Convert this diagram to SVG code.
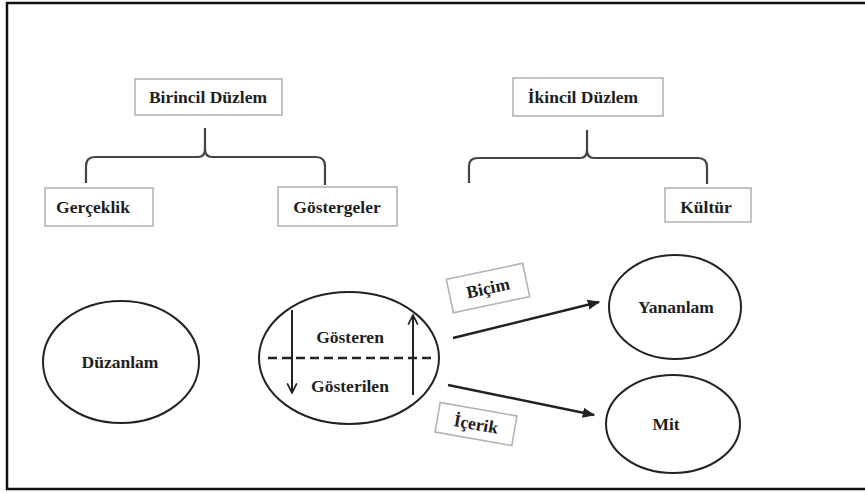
<svg xmlns="http://www.w3.org/2000/svg" width="865" height="492" viewBox="0 0 865 492">
<defs>
<style>
.t{font-family:'Liberation Serif','Times New Roman',serif;font-weight:700;font-size:17.5px;fill:#1e1e1e;text-anchor:middle}
.box{fill:#fff;stroke:#b4b4b4;stroke-width:1.6}
.ell{fill:#fff;stroke:#222;stroke-width:2}
.br{fill:none;stroke:#444;stroke-width:2.2}
.ar{fill:none;stroke:#222;stroke-width:2.5}
.va{fill:none;stroke:#222;stroke-width:2}
</style>
<marker id="ah" viewBox="0 0 10 10" refX="9" refY="5" markerWidth="5" markerHeight="5" orient="auto" markerUnits="strokeWidth">
<path d="M0,1 L10,5 L0,9 Z" fill="#222"/>
</marker>
<marker id="oh" viewBox="0 0 10 10" refX="9" refY="5" markerWidth="6" markerHeight="6" orient="auto" markerUnits="strokeWidth">
<path d="M1,1 L9,5 L1,9" fill="none" stroke="#222" stroke-width="1.4"/>
</marker>
</defs>
<rect x="0" y="0" width="865" height="492" fill="#fff"/>
<polyline points="865,3 7,3 7,489 865,489" fill="none" stroke="#111" stroke-width="2.5"/>

<g id="connectors">
<path class="br" d="M86,183 L86,166 Q86,157 95,157 L198,157 Q205,157 205,149 L205,128 M205,149 Q205,157 212,157 L316,157 Q325,157 325,166 L325,185"/>
<path class="br" d="M469,183 L469,166 Q469,158 478,158 L580,158 Q587,158 587,150 L587,130 M587,150 Q587,158 594,158 L698,158 Q707,158 707,167 L707,184"/>
<line class="ar" x1="453" y1="338" x2="599" y2="302" marker-end="url(#ah)"/>
<line class="ar" x1="448" y1="385" x2="594" y2="415" marker-end="url(#ah)"/>
</g>

<g id="birincil"><rect class="box" x="135" y="79" width="147" height="36"/><text class="t" x="208" y="103">Birincil Düzlem</text></g>
<g id="gerceklik"><rect class="box" x="45" y="188" width="108" height="38"/><text class="t" x="93" y="213">Gerçeklik</text></g>
<g id="gostergeler"><rect class="box" x="278" y="187" width="119" height="39"/><text class="t" x="337" y="213">Göstergeler</text></g>
<g id="ikincil"><rect class="box" x="513" y="78" width="150" height="38"/><text class="t" x="583" y="103">İkincil Düzlem</text></g>
<g id="kultur"><rect class="box" x="665" y="188" width="86" height="34"/><text class="t" x="706" y="213">Kültür</text></g>

<g id="duzanlam"><ellipse class="ell" cx="121" cy="362" rx="78" ry="61"/><text class="t" x="120" y="368">Düzanlam</text></g>

<g id="gosterge">
<ellipse class="ell" cx="349" cy="358" rx="90" ry="66"/>
<line x1="268" y1="358" x2="433" y2="358" stroke="#222" stroke-width="2.5" stroke-dasharray="9 5"/>
<line class="va" x1="292" y1="310" x2="292" y2="393" marker-end="url(#oh)"/>
<line class="va" x1="413" y1="395" x2="413" y2="315" marker-end="url(#oh)"/>
<text class="t" x="350" y="343">Gösteren</text>
<text class="t" x="350" y="392">Gösterilen</text>
</g>

<g id="bicim" transform="translate(488,288) rotate(-12)"><rect class="box" x="-39" y="-17" width="78" height="34"/><text class="t" x="0" y="6">Biçim</text></g>
<g id="icerik" transform="translate(476,424) rotate(10)"><rect class="box" x="-39" y="-15" width="78" height="30"/><text class="t" x="0" y="6">İçerik</text></g>

<g id="yananlam"><ellipse class="ell" cx="675" cy="307" rx="66" ry="52"/><text class="t" x="676" y="313">Yananlam</text></g>
<g id="mit"><ellipse class="ell" cx="673" cy="424" rx="67" ry="49"/><text class="t" x="666" y="430">Mit</text></g>
</svg>
